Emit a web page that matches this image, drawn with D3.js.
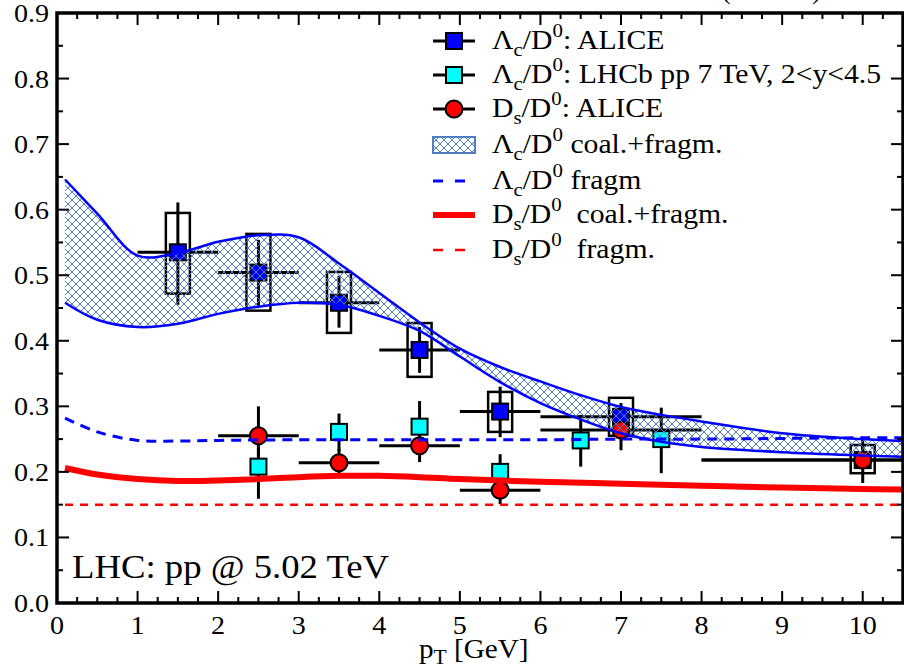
<!DOCTYPE html>
<html>
<head>
<meta charset="utf-8">
<script src="https://cdn.jsdelivr.net/npm/d3@7"></script>
<style>
  body { margin: 0; background: #fff; }
  svg { display: block; font-family: "Liberation Serif", "DejaVu Serif", serif; }
</style>
</head>
<body>
<script>
// ---- data ----
// Lambda_c / D0 ALICE (pp 5.02 TeV)
var lcX    = [1.5, 2.5, 3.5, 4.5, 5.5, 7, 10]
var lcY    = [0.535, 0.504, 0.458, 0.386, 0.292, 0.284, 0.218]
var lcXlo  = [1, 2, 3, 4, 5, 6, 8]
var lcXhi  = [2, 3, 4, 5, 6, 8, 12]
var lcStLo = [0.455, 0.452, 0.420, 0.351, 0.253, 0.262, 0.205]
var lcStHi = [0.611, 0.554, 0.499, 0.421, 0.330, 0.305, 0.240]
var lcSyLo = [0.472, 0.446, 0.412, 0.345, 0.261, 0.255, 0.198]
var lcSyHi = [0.595, 0.563, 0.505, 0.427, 0.322, 0.313, 0.241]

// Lambda_c / D0 LHCb pp 7 TeV
var lhX  = [2.5, 3.5, 4.5, 5.5, 6.5, 7.5]
var lhY  = [0.208, 0.261, 0.269, 0.200, 0.248, 0.250]
var lhLo = [0.159, 0.232, 0.230, 0.170, 0.208, 0.198]
var lhHi = [0.250, 0.289, 0.308, 0.227, 0.287, 0.298]

// Ds / D0 ALICE
var dsX   = [2.5, 3.5, 4.5, 5.5, 7, 10]
var dsY   = [0.255, 0.214, 0.240, 0.172, 0.264, 0.218]
var dsXlo = [2, 3, 4, 5, 6, 8]
var dsXhi = [3, 4, 5, 6, 8, 12]
var dsLo  = [0.210, 0.198, 0.215, 0.151, 0.233, 0.183]
var dsHi  = [0.300, 0.235, 0.262, 0.195, 0.285, 0.252]

// model curves
var bandX  = [0.1, 0.5, 1, 1.5, 2, 2.5, 3, 3.5, 4, 4.5, 5, 5.5, 6, 6.5, 7, 7.5, 8, 9, 10, 10.5]
var bandHi = [0.646, 0.594, 0.530, 0.534, 0.551, 0.561, 0.558, 0.518, 0.473, 0.428, 0.388, 0.360, 0.338, 0.317, 0.299, 0.287, 0.277, 0.259, 0.250, 0.247]
var bandLo = [0.458, 0.432, 0.421, 0.426, 0.441, 0.452, 0.458, 0.455, 0.438, 0.415, 0.376, 0.337, 0.305, 0.280, 0.259, 0.246, 0.238, 0.230, 0.225, 0.223]

var lcFragX = [0.1, 0.5, 1, 1.5, 2, 3, 4, 5, 6, 7, 8, 9, 10, 10.5]
var lcFragY = [0.282, 0.261, 0.248, 0.247, 0.248, 0.249, 0.249, 0.249, 0.249, 0.250, 0.250, 0.251, 0.252, 0.252]

var dsCoalX = [0.1, 0.5, 1, 1.5, 2, 2.5, 3, 3.5, 4, 4.5, 5, 6, 7, 8, 9, 10, 10.5]
var dsCoalY = [0.206, 0.196, 0.189, 0.186, 0.187, 0.189, 0.192, 0.194, 0.194, 0.192, 0.189, 0.185, 0.182, 0.179, 0.176, 0.174, 0.173]

var dsFragX = [0.1, 10.5]
var dsFragY = [0.15, 0.15]

var xTicks = [0, 1, 2, 3, 4, 5, 6, 7, 8, 9, 10]
var yTicks = [0, 0.1, 0.2, 0.3, 0.4, 0.5, 0.6, 0.7, 0.8, 0.9]

// ---- layout ----
var W = 904, H = 671
var L = 57, R = 903, T = 13, B = 603

var svg = d3.select('body').append('svg').attr('width', W).attr('height', H)

var x = d3.scaleLinear().domain([0, 10.5]).range([L, R])
var y = d3.scaleLinear().domain([0, 0.9]).range([B, T])

svg.append('clipPath').attr('id', 'plot')
	.append('rect').attr('x', L).attr('y', T).attr('width', R - L).attr('height', B - T)

// hatch pattern for the band
var pat = svg.append('defs').append('pattern')
	.attr('id', 'hatch').attr('patternUnits', 'userSpaceOnUse')
	.attr('width', 8).attr('height', 8)
pat.append('path').attr('d', 'M0,0L8,8M8,0L0,8M-1,7L1,9M7,-1L9,1M-1,1L1,-1M7,9L9,7')
	.attr('stroke', '#4f7fc0').attr('stroke-width', 1).attr('fill', 'none')

var g = svg.append('g').attr('clip-path', 'url(#plot)')

// ---- data points ----
function zip(a, keys) { return a[0].map(function(_, i) { var o = {}; keys.forEach(function(k, j) { o[k] = a[j][i] }); return o }) }

var lc = zip([lcX, lcY, lcXlo, lcXhi, lcStLo, lcStHi, lcSyLo, lcSyHi], ['x', 'y', 'xl', 'xh', 'sl', 'sh', 'bl', 'bh'])
var lh = zip([lhX, lhY, lhLo, lhHi], ['x', 'y', 'sl', 'sh'])
var ds = zip([dsX, dsY, dsXlo, dsXhi, dsLo, dsHi], ['x', 'y', 'xl', 'xh', 'sl', 'sh'])

var pts = g.append('g')

// systematic boxes
pts.selectAll('.sys').data(lc).enter().append('rect')
	.attr('x', function(d) { return x(d.x) - 12 })
	.attr('y', function(d) { return y(d.bh) })
	.attr('width', 24)
	.attr('height', function(d) { return y(d.bl) - y(d.bh) })
	.attr('fill', 'none').attr('stroke', '#000').attr('stroke-width', 2.5)

function errBars(data, hasX) {
	if (hasX) {
		pts.selectAll(null).data(data).enter().append('line')
			.attr('x1', function(d) { return x(d.xl) }).attr('x2', function(d) { return x(d.xh) })
			.attr('y1', function(d) { return y(d.y) }).attr('y2', function(d) { return y(d.y) })
			.attr('stroke', '#000').attr('stroke-width', 3)
	}
	pts.selectAll(null).data(data).enter().append('line')
		.attr('x1', function(d) { return x(d.x) }).attr('x2', function(d) { return x(d.x) })
		.attr('y1', function(d) { return y(d.sl) }).attr('y2', function(d) { return y(d.sh) })
		.attr('stroke', '#000').attr('stroke-width', 3)
}
errBars(lc, true)
errBars(ds, true)
errBars(lh, false)

pts.selectAll('.lc').data(lc).enter().append('rect')
	.attr('x', function(d) { return x(d.x) - 8 }).attr('y', function(d) { return y(d.y) - 8 })
	.attr('width', 16).attr('height', 16)
	.attr('fill', '#0000ff').attr('stroke', '#000').attr('stroke-width', 2)

pts.selectAll('.lh').data(lh).enter().append('rect')
	.attr('x', function(d) { return x(d.x) - 8 }).attr('y', function(d) { return y(d.y) - 8 })
	.attr('width', 16).attr('height', 16)
	.attr('fill', '#00ffff').attr('stroke', '#000').attr('stroke-width', 2)

pts.selectAll('.ds').data(ds).enter().append('circle')
	.attr('cx', function(d) { return x(d.x) }).attr('cy', function(d) { return y(d.y) })
	.attr('r', 8.5)
	.attr('fill', '#ff0000').attr('stroke', '#000').attr('stroke-width', 2)

// ---- model curves ----
var curve = d3.curveCatmullRom.alpha(0.5)
var band = bandX.map(function(v, i) { return { x: v, hi: bandHi[i], lo: bandLo[i] } })

g.append('path').datum(band)
	.attr('d', d3.area().curve(curve)
		.x(function(d) { return x(d.x) })
		.y0(function(d) { return y(d.lo) })
		.y1(function(d) { return y(d.hi) }))
	.attr('fill', 'url(#hatch)')

var line = d3.line().curve(curve).x(function(d) { return x(d[0]) }).y(function(d) { return y(d[1]) })
function pairs(a, b) { return a.map(function(v, i) { return [v, b[i]] }) }

g.append('path').attr('d', line(pairs(bandX, bandHi)))
	.attr('fill', 'none').attr('stroke', '#0000ff').attr('stroke-width', 2.5)
g.append('path').attr('d', line(pairs(bandX, bandLo)))
	.attr('fill', 'none').attr('stroke', '#0000ff').attr('stroke-width', 2.5)

g.append('path').attr('d', line(pairs(lcFragX, lcFragY)))
	.attr('fill', 'none').attr('stroke', '#0000ff').attr('stroke-width', 3)
	.attr('stroke-dasharray', '10,7')

g.append('path').attr('d', line(pairs(dsCoalX, dsCoalY)))
	.attr('fill', 'none').attr('stroke', '#ff0000').attr('stroke-width', 6)

g.append('path').attr('d', line(pairs(dsFragX, dsFragY)))
	.attr('fill', 'none').attr('stroke', '#ff0000').attr('stroke-width', 2.5)
	.attr('stroke-dasharray', '8,7')

// ---- frame and ticks ----
var ax = svg.append('g').attr('stroke', '#000')
var minorX = d3.range(0, 10.51, 0.25)
var minorY = d3.range(0, 0.901, 0.05)

ax.selectAll(null).data(minorX).enter().append('line')
	.attr('x1', function(d) { return x(d) }).attr('x2', function(d) { return x(d) })
	.attr('y1', B).attr('y2', function(d) { return B - (Math.abs(d - Math.round(d)) < 1e-6 ? 12 : 6) })
	.attr('stroke-width', 2)
ax.selectAll(null).data(minorX).enter().append('line')
	.attr('x1', function(d) { return x(d) }).attr('x2', function(d) { return x(d) })
	.attr('y1', T).attr('y2', function(d) { return T + (Math.abs(d - Math.round(d)) < 1e-6 ? 12 : 6) })
	.attr('stroke-width', 2)

function isMajY(d) { return Math.abs(d * 10 - Math.round(d * 10)) < 1e-6 }
ax.selectAll(null).data(minorY).enter().append('line')
	.attr('y1', function(d) { return y(d) }).attr('y2', function(d) { return y(d) })
	.attr('x1', L).attr('x2', function(d) { return L + (isMajY(d) ? 12 : 6) })
	.attr('stroke-width', 2)
ax.selectAll(null).data(minorY).enter().append('line')
	.attr('y1', function(d) { return y(d) }).attr('y2', function(d) { return y(d) })
	.attr('x1', R).attr('x2', function(d) { return R - (isMajY(d) ? 12 : 6) })
	.attr('stroke-width', 2)

ax.append('rect').attr('x', L).attr('y', T).attr('width', R - L).attr('height', B - T)
	.attr('fill', 'none').attr('stroke-width', 3.5)

// tick labels (the original font runs a little wide)
svg.append('g').selectAll('text').data(yTicks).enter().append('text')
	.attr('transform', function(d) { return 'translate(49,' + (y(d) + 9) + ') scale(1.08,1)' })
	.attr('text-anchor', 'end').attr('font-size', 26)
	.text(function(d) { return d3.format('.1f')(d) })

svg.append('g').selectAll('text').data(xTicks).enter().append('text')
	.attr('transform', function(d) { return 'translate(' + x(d) + ',634) scale(1.08,1)' })
	.attr('text-anchor', 'middle').attr('font-size', 26)
	.text(function(d) { return d })

// axis title
var xt = svg.append('text').attr('transform', 'translate(419,658) scale(1.08,1)').attr('font-size', 27)
xt.append('tspan').text('p')
xt.append('tspan').attr('dy', 6).attr('font-size', 20).text('T')
xt.append('tspan').attr('dy', -6).text(' [GeV]')

// bits of the clipped title above the frame
svg.append('text').attr('x', 722).attr('y', -1).attr('font-size', 26).text('(')
svg.append('text').attr('x', 812).attr('y', -1).attr('font-size', 26).text(')')

// annotation
svg.append('text').attr('transform', 'translate(72,578) scale(1.08,1)').attr('font-size', 34).text('LHC: pp @ 5.02 TeV')

// ---- legend ----
var leg = svg.append('g')
var lx0 = 433, lx1 = 475, lxm = 454, tx = 492
var rows = [41, 75, 109, 145, 181, 215, 250]

function ratioLabel(row, big, sub, rest) {
	var t = leg.append('text').attr('transform', 'translate(' + tx + ',' + (row + 8) + ') scale(1.1,1)').attr('font-size', 27)
	t.append('tspan').text(big)
	t.append('tspan').attr('dy', 7).attr('font-size', 19).text(sub)
	t.append('tspan').attr('dy', -7).text('/D')
	t.append('tspan').attr('dy', -12).attr('font-size', 19).text('0')
	t.append('tspan').attr('dy', 12).text(rest)
}

// symbol rows
leg.append('line').attr('x1', lx0).attr('x2', lx1).attr('y1', rows[0]).attr('y2', rows[0]).attr('stroke', '#000').attr('stroke-width', 3)
leg.append('rect').attr('x', lxm - 8).attr('y', rows[0] - 8).attr('width', 16).attr('height', 16).attr('fill', '#0000ff').attr('stroke', '#000').attr('stroke-width', 2)
leg.append('line').attr('x1', lx0).attr('x2', lx1).attr('y1', rows[1]).attr('y2', rows[1]).attr('stroke', '#000').attr('stroke-width', 3)
leg.append('rect').attr('x', lxm - 8).attr('y', rows[1] - 8).attr('width', 16).attr('height', 16).attr('fill', '#00ffff').attr('stroke', '#000').attr('stroke-width', 2)
leg.append('line').attr('x1', lx0).attr('x2', lx1).attr('y1', rows[2]).attr('y2', rows[2]).attr('stroke', '#000').attr('stroke-width', 3)
leg.append('circle').attr('cx', lxm).attr('cy', rows[2]).attr('r', 8.5).attr('fill', '#ff0000').attr('stroke', '#000').attr('stroke-width', 2)
leg.append('rect').attr('x', lx0).attr('y', rows[3] - 8).attr('width', lx1 - lx0).attr('height', 16)
	.attr('fill', 'url(#hatch)').attr('stroke', '#4f7fc0').attr('stroke-width', 2)
leg.append('line').attr('x1', lx0).attr('x2', 466).attr('y1', rows[4]).attr('y2', rows[4])
	.attr('stroke', '#0000ff').attr('stroke-width', 3).attr('stroke-dasharray', '10,12')
leg.append('line').attr('x1', lx0).attr('x2', lx1).attr('y1', rows[5]).attr('y2', rows[5])
	.attr('stroke', '#ff0000').attr('stroke-width', 6)
leg.append('line').attr('x1', lx0).attr('x2', 466).attr('y1', rows[6]).attr('y2', rows[6])
	.attr('stroke', '#ff0000').attr('stroke-width', 2.5).attr('stroke-dasharray', '10,12')

ratioLabel(rows[0], '\u039b', 'c', ': ALICE')
ratioLabel(rows[1], '\u039b', 'c', ': LHCb pp 7 TeV, 2<y<4.5')
ratioLabel(rows[2], 'D', 's', ': ALICE')
ratioLabel(rows[3], '\u039b', 'c', ' coal.+fragm.')
ratioLabel(rows[4], '\u039b', 'c', ' fragm')
ratioLabel(rows[5], 'D', 's', '\u00a0 coal.+fragm.')
ratioLabel(rows[6], 'D', 's', '\u00a0 fragm.')
</script>
</body>
</html>
